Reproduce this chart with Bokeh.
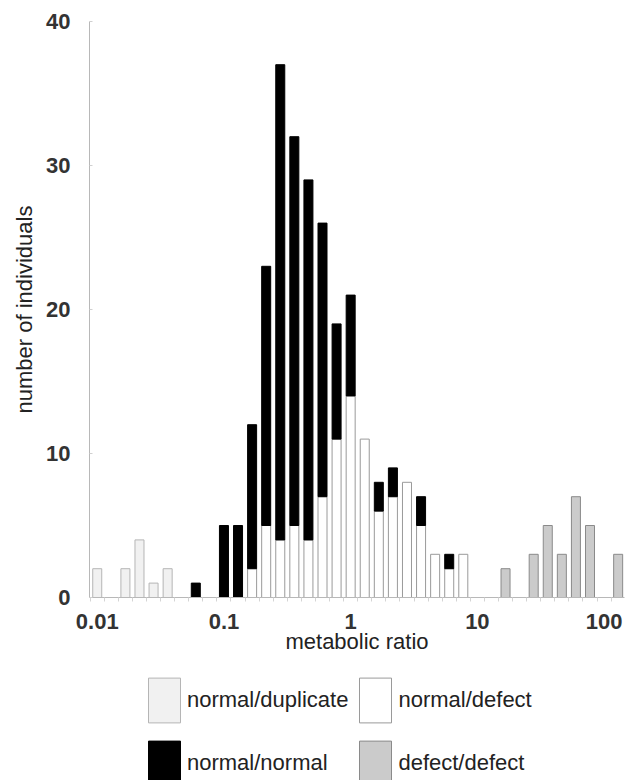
from bokeh.plotting import figure
from bokeh.layouts import column
from bokeh.models import Range1d, FixedTicker, Legend, LegendItem
from bokeh.embed import file_html
from bokeh.resources import INLINE

# lower bound of each metabolic-ratio bin (9 bins per decade)
bin_lower = [0.01, 0.02, 0.03, 0.04, 0.05, 0.06, 0.07, 0.08, 0.09,
             0.1, 0.2, 0.3, 0.4, 0.5, 0.6, 0.7, 0.8, 0.9,
             1, 2, 3, 4, 5, 6, 7, 8, 9,
             10, 20, 30, 40, 50, 60, 70, 80, 90,
             100, 200]

normal_duplicate = [2, 0, 2, 4, 1, 2, 0, 0, 0,
                    0, 0, 0, 0, 0, 0, 0, 0, 0,
                    0, 0, 0, 0, 0, 0, 0, 0, 0,
                    0, 0, 0, 0, 0, 0, 0, 0, 0,
                    0, 0]
normal_defect = [0, 0, 0, 0, 0, 0, 0, 0, 0,
                 0, 0, 2, 5, 4, 5, 4, 7, 11,
                 14, 11, 6, 7, 8, 5, 3, 2, 3,
                 0, 0, 0, 0, 0, 0, 0, 0, 0,
                 0, 0]
normal_normal = [0, 0, 0, 0, 0, 0, 0, 1, 0,
                 5, 5, 10, 18, 33, 27, 25, 19, 8,
                 7, 0, 2, 2, 0, 2, 0, 1, 0,
                 0, 0, 0, 0, 0, 0, 0, 0, 0,
                 0, 0]
defect_defect = [0, 0, 0, 0, 0, 0, 0, 0, 0,
                 0, 0, 0, 0, 0, 0, 0, 0, 0,
                 0, 0, 0, 0, 0, 0, 0, 0, 0,
                 0, 0, 2, 0, 3, 5, 3, 7, 5,
                 0, 3]

x_tick_values = [0.01, 0.1, 1, 10, 100]
x_tick_labels = ["0.01", "0.1", "1", "10", "100"]
y_ticks = [0, 10, 20, 30, 40]

FONT = "Liberation Sans"

series = [
    ("normal/duplicate", normal_duplicate, "#f1f1f1", "#b5b5b5"),
    ("normal/defect", normal_defect, "#ffffff", "#9a9a9a"),
    ("normal/normal", normal_normal, "#000000", "#000000"),
    ("defect/defect", defect_defect, "#cbcbcb", "#8a8a8a"),
]
legend_order = ["normal/duplicate", "normal/normal", "normal/defect", "defect/defect"]

n = len(bin_lower)


def draw_bars(fig):
    base = [0] * n
    rends = {}
    for name, vals, fill, line in series:
        xs, bottoms, tops = [], [], []
        for i, v in enumerate(vals):
            if v > 0:
                xs.append(i)
                bottoms.append(base[i])
                tops.append(base[i] + v)
            base[i] += v
        rends[name] = fig.vbar(x=xs, bottom=bottoms, top=tops, width=0.64,
                               fill_color=fill, line_color=line, line_width=1)
    return rends


p = figure(width=628, height=667, output_backend="svg", toolbar_location=None,
           x_range=Range1d(-0.55, 37.45), y_range=Range1d(0, 40),
           min_border_left=89, min_border_right=4, min_border_top=21,
           min_border_bottom=70)
p.outline_line_color = None
p.xgrid.visible = False
p.ygrid.visible = False
draw_bars(p)

# x axis
tick_pos = [bin_lower.index(v) for v in x_tick_values]
xa = p.xaxis[0]
xa.ticker = FixedTicker(ticks=tick_pos, minor_ticks=[i + 0.5 for i in range(-1, n)])
xa.major_label_overrides = {pos: lab for pos, lab in zip(tick_pos, x_tick_labels)}
xa.axis_line_color = "#b8b8b8"
xa.major_tick_line_color = None
xa.major_tick_out = 4
xa.major_tick_in = 0
xa.minor_tick_line_color = "#d4d4d4"
xa.minor_tick_out = 4
xa.minor_tick_in = 0
xa.major_label_standoff = 12
xa.major_label_text_font = FONT
xa.major_label_text_font_size = "22px"
xa.major_label_text_font_style = "bold"
xa.major_label_text_color = "#333333"
xa.axis_label = "metabolic ratio"
xa.axis_label_text_font = FONT
xa.axis_label_text_font_size = "22px"
xa.axis_label_text_font_style = "normal"
xa.axis_label_text_color = "#222222"
xa.axis_label_standoff = -3

# y axis
ya = p.yaxis[0]
ya.ticker = FixedTicker(ticks=y_ticks)
ya.axis_line_color = "#b8b8b8"
ya.major_tick_line_color = "#d0d0d0"
ya.major_tick_in = 3
ya.major_tick_out = 0
ya.minor_tick_line_color = None
ya.major_label_standoff = 19
ya.major_label_text_font = FONT
ya.major_label_text_font_size = "22px"
ya.major_label_text_font_style = "bold"
ya.major_label_text_color = "#333333"
ya.axis_label = "number of individuals"
ya.axis_label_text_font = FONT
ya.axis_label_text_font_size = "22px"
ya.axis_label_text_font_style = "normal"
ya.axis_label_text_color = "#222222"
ya.axis_label_standoff = 6

# legend in its own figure below the chart (bars drawn there lie outside its view)
lg = figure(width=628, height=113, output_backend="svg", toolbar_location=None,
            x_range=Range1d(-0.55, 37.45), y_range=Range1d(100, 101),
            min_border_left=0, min_border_right=0, min_border_top=0,
            min_border_bottom=0)
lg.axis.visible = False
lg.xgrid.visible = False
lg.ygrid.visible = False
lg.outline_line_color = None
swatch = draw_bars(lg)

legend = Legend(
    items=[LegendItem(label=name, renderers=[swatch[name]]) for name in legend_order],
    ncols=2, location=(55, -11),
    glyph_width=40, glyph_height=56, label_standoff=3, spacing=7,
    padding=0, margin=0, border_line_color=None, background_fill_alpha=0,
    label_text_font=FONT, label_text_font_size="22px", label_text_color="#222222",
)
lg.add_layout(legend, "center")

layout = column(p, lg, spacing=0)
open("out.html", "w").write(file_html(layout, INLINE))
